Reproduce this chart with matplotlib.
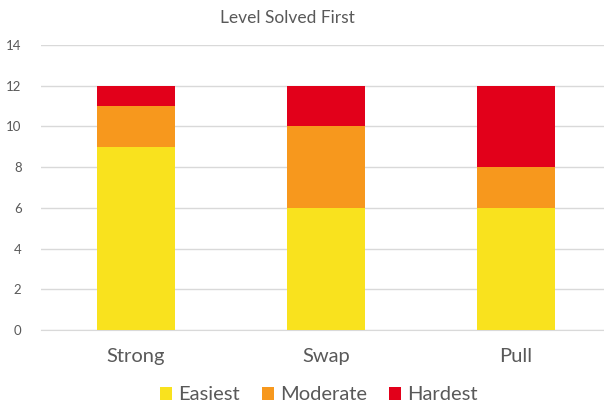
import matplotlib.pyplot as plt
import numpy as np

plt.rcParams['font.family'] = ['Lato', 'DejaVu Sans']

categories = ["Strong", "Swap", "Pull"]
easiest = [9, 6, 6]
moderate = [2, 4, 2]
hardest = [1, 2, 4]

colors = {"Easiest": "#F9E21E", "Moderate": "#F7981D", "Hardest": "#E2001A"}
text_color = "#595959"

fig = plt.figure(figsize=(6.04, 4.04), dpi=100)
ax = fig.add_axes([41 / 604, 1 - 330 / 404, 1 - 41 / 604, (330 - 45) / 404])

x = np.arange(len(categories))
w = 0.41
ax.bar(x, easiest, w, color=colors["Easiest"], label="Easiest", zorder=3)
ax.bar(x, moderate, w, bottom=easiest, color=colors["Moderate"], label="Moderate", zorder=3)
bottom2 = np.array(easiest) + np.array(moderate)
ax.bar(x, hardest, w, bottom=bottom2, color=colors["Hardest"], label="Hardest", zorder=3)

ax.set_ylim(0, 14)
ax.set_yticks(range(0, 15, 2))
ax.set_xlim(-0.5, 2.463)
ax.set_xticks(x)
ax.set_xticklabels(categories, fontsize=14.5, color=text_color)
ax.tick_params(axis="y", labelsize=9.5, colors=text_color, length=0, pad=14)
ax.tick_params(axis="x", length=0, pad=13)
ax.grid(axis="y", color="#D9D9D9", linewidth=1, zorder=0)
for s in ["top", "right", "left"]:
    ax.spines[s].set_visible(False)
ax.spines["bottom"].set_color("#D9D9D9")

fig.text(0.476, 1 - 18 / 404, "Level Solved First", ha="center", va="center",
         fontsize=12.5, color=text_color)

leg = fig.legend(loc="center", bbox_to_anchor=(0.528, 1 - 395 / 404), ncol=3,
                 frameon=False, fontsize=14.5, handlelength=0.6, handleheight=0.6,
                 handletextpad=0.3, columnspacing=1.1)
for t in leg.get_texts():
    t.set_color(text_color)

fig.savefig("out.png", dpi=100)
